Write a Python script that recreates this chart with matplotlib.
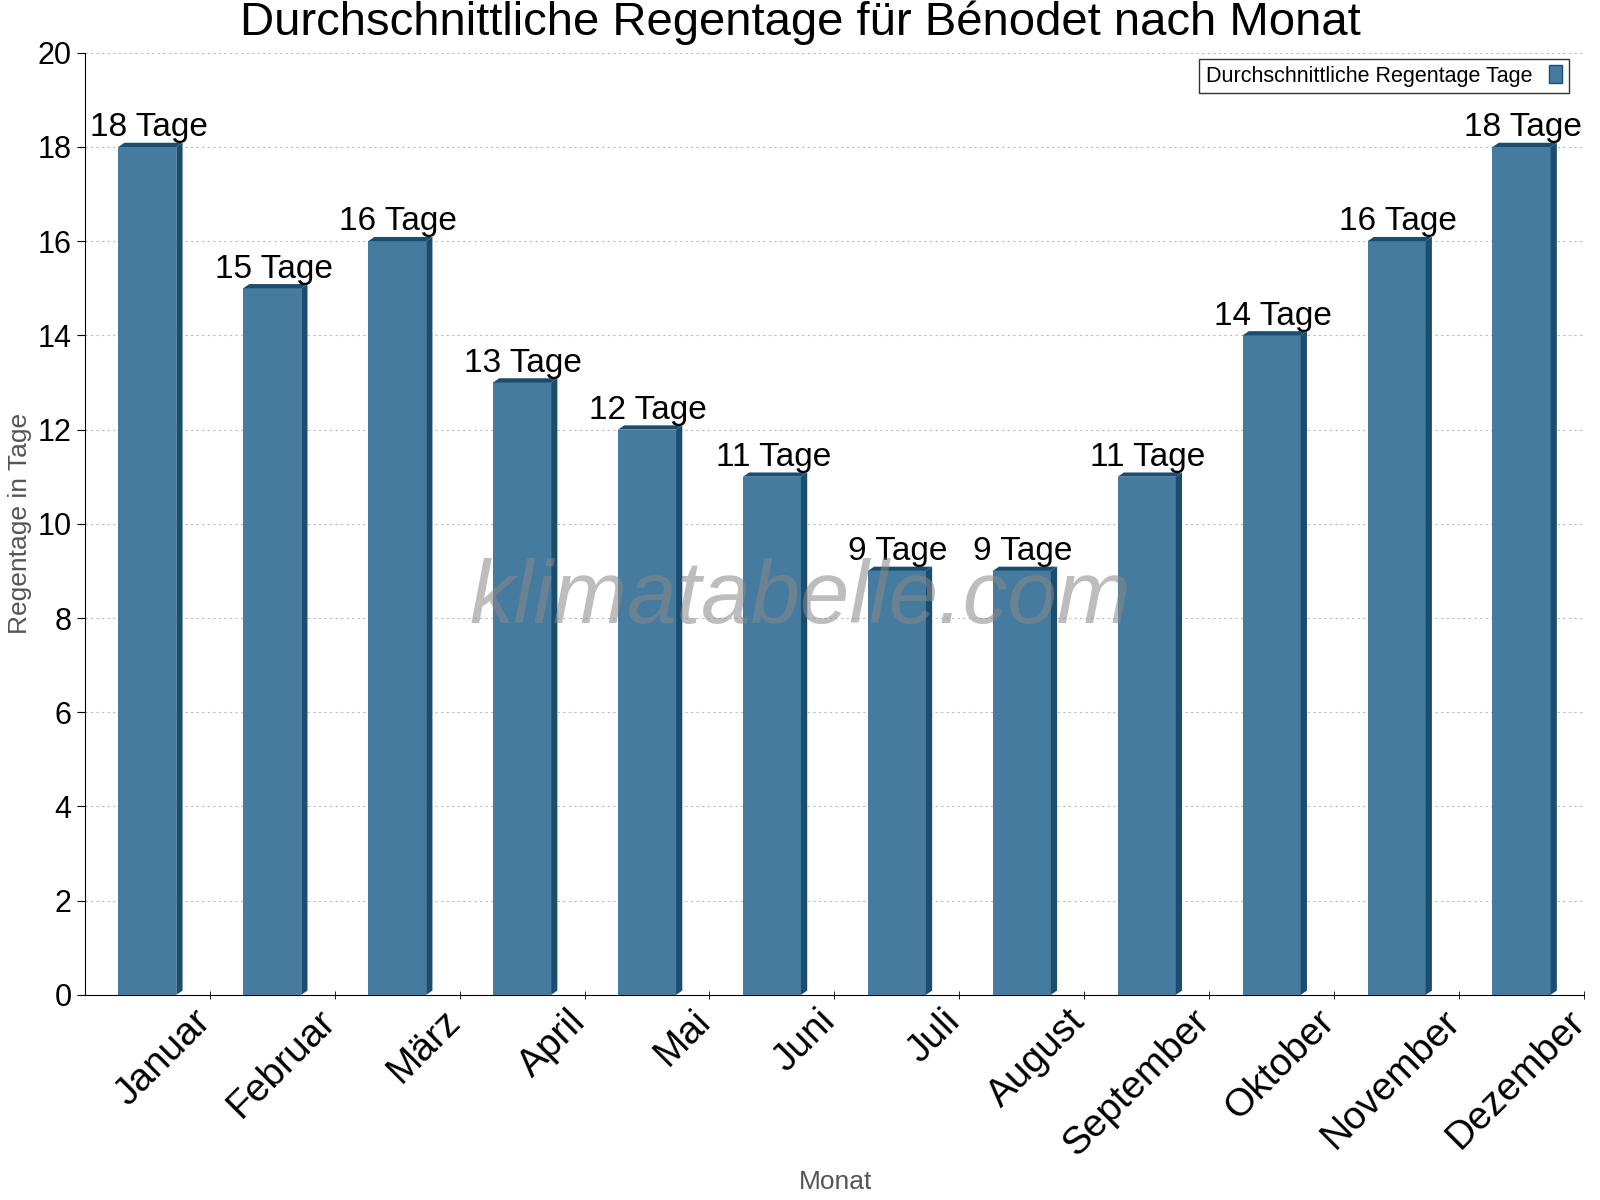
import matplotlib
matplotlib.use("Agg")
import matplotlib.pyplot as plt
import matplotlib.transforms as mtransforms
from matplotlib.patches import Polygon, Patch

plt.rcParams['font.family'] = ['Liberation Sans', 'DejaVu Sans']

# Daten
monate = ["Januar", "Februar", "März", "April", "Mai", "Juni", "Juli",
          "August", "September", "Oktober", "November", "Dezember"]
regentage = [18, 15, 16, 13, 12, 11, 9, 9, 11, 14, 16, 18]

FACE = "#467ba0"
SIDE = "#1a4d6e"

fig = plt.figure(figsize=(16, 12), dpi=100)
ax = fig.add_axes([0.053, 0.171, 0.937, 0.785])

x = list(range(len(monate)))
breite = 0.465
tiefe = 0.05
hoehe = 0.09

bars = ax.bar(x, regentage, width=breite, color=FACE, zorder=3, label="Durchschnittliche Regentage Tage")

# 3D-Effekt: Seite und Deckel
for b in bars:
    x0 = b.get_x()
    x1 = x0 + b.get_width()
    h = b.get_height()
    ax.add_patch(Polygon([(x1, 0), (x1 + tiefe, hoehe), (x1 + tiefe, h + hoehe), (x1, h)],
                         closed=True, color=SIDE, zorder=3, lw=0))
    ax.add_patch(Polygon([(x0, h), (x0 + tiefe, h + hoehe), (x1 + tiefe, h + hoehe), (x1, h)],
                         closed=True, color=SIDE, zorder=3, lw=0))
    ax.text(x0 + b.get_width() / 2 + 0.01, h + 0.08, f"{h} Tage", ha="center", va="bottom",
            fontsize=24, zorder=4)

ax.set_xlim(-0.5, len(monate) - 0.5)
ax.set_ylim(0, 20)
ax.set_yticks(range(0, 21, 2))
ax.tick_params(axis="y", labelsize=22, length=6, direction="out")

# Ticks zwischen den Monaten, Beschriftungen versetzt
ax.set_xticks([i + 0.5 for i in x], minor=True)
ax.set_xticks(x)
ax.set_xticklabels(monate, rotation=45, ha="right", rotation_mode="anchor", fontsize=28)
ax.tick_params(axis="x", which="major", length=0, pad=6)
ax.tick_params(axis="x", which="minor", length=6, direction="inout")
offset = mtransforms.ScaledTranslation(0.45, 0, fig.dpi_scale_trans)
for lbl in ax.get_xticklabels():
    lbl.set_transform(lbl.get_transform() + offset)

ax.grid(axis="y", linestyle=(0, (2, 3)), color="#bbbbbb", linewidth=0.8, zorder=0)
for s in ["top", "right"]:
    ax.spines[s].set_visible(False)

fig.text(0.5, 0.981, "Durchschnittliche Regentage für Bénodet nach Monat", fontsize=34,
         ha="center", va="center")
ax.set_ylabel("Regentage in Tage", fontsize=19, color="#555555")
ax.yaxis.set_label_coords(-0.035, 0.5)
fig.text(0.522, 0.005, "Monat", fontsize=19, color="#555555", ha="center", va="bottom")

fig.text(0.5, 0.5, "klimatabelle.com", ha="center", va="center",
         fontsize=64, style="italic", color="#888888", alpha=0.55, zorder=5)

leg = ax.legend(handles=[Patch(facecolor=FACE, edgecolor=SIDE, label="Durchschnittliche Regentage Tage")],
                loc="upper right", bbox_to_anchor=(0.997, 1.005), markerfirst=False, fontsize=15.5,
                fancybox=False, edgecolor="black", handlelength=0.6, handleheight=0.9, borderpad=0.3)
leg.get_frame().set_linewidth(1.0)

fig.savefig("out.png")
